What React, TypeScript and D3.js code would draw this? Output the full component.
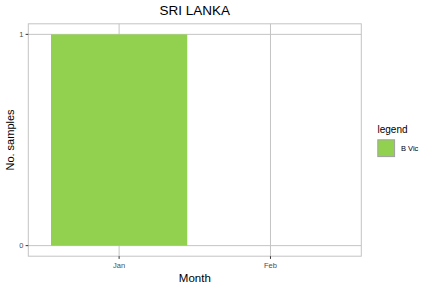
import React from "react";
import * as d3 from "d3";

const months = ["Jan", "Feb"];
const barMonths = ["Jan"];
const barValues = [1];
const yTicks = [0, 1];
const seriesName = "B Vic";
const title = "SRI LANKA";

export default function App() {
  const W = 432, H = 288;
  const left = 28.3, right = 361.3, top = 23.8, bottom = 256.2;
  const step = (right - left) / (months.length - 1 + 1.2);
  const xPos = (m: string) => left + step * (0.6 + months.indexOf(m));
  const y = d3.scaleLinear().domain([-0.05, 1.05]).range([bottom, top]);
  const bw = step * 0.9;
  const grid = "#c4c4c4";
  const font = "Liberation Sans, Arial, sans-serif";
  return (
    <svg width={W} height={H} style={{ position: "absolute", left: 0, top: 0 }} fontFamily={font}>
      <rect x={0} y={0} width={W} height={H} fill="white" />
      {yTicks.map((t) => (
        <line key={"gy" + t} x1={left} x2={right} y1={y(t)} y2={y(t)} stroke={grid} strokeWidth={1} />
      ))}
      {months.map((m) => (
        <line key={"gx" + m} x1={xPos(m)} x2={xPos(m)} y1={top} y2={bottom} stroke={grid} strokeWidth={1} />
      ))}
      {barMonths.map((m, i) => (
        <rect key={m} x={xPos(m) - bw / 2} width={bw} y={y(barValues[i])} height={y(0) - y(barValues[i])} fill="#92d050" />
      ))}
      <rect x={left} y={top} width={right - left} height={bottom - top} fill="none" stroke={grid} strokeWidth={1} />
      {yTicks.map((t) => (
        <g key={"ty" + t}>
          <line x1={left - 2.7} x2={left} y1={y(t)} y2={y(t)} stroke="#333" strokeWidth={1} />
          <text x={left - 5} y={y(t)} dy="0.35em" textAnchor="end" fontSize={7.5} fill="#4d4d4d">{t}</text>
        </g>
      ))}
      {months.map((m) => (
        <g key={"tx" + m}>
          <line x1={xPos(m)} x2={xPos(m)} y1={bottom} y2={bottom + 2.7} stroke="#333" strokeWidth={1} />
          <text x={xPos(m)} y={267.7} textAnchor="middle" fontSize={7.5} fill="#4d4d4d">{m}</text>
        </g>
      ))}
      <text x={(left + right) / 2} y={15} textAnchor="middle" fontSize={13.5} fill="#000">{title}</text>
      <text x={(left + right) / 2} y={281.7} textAnchor="middle" fontSize={11.5} fill="#000">Month</text>
      <text transform={`translate(14.3,${(top + bottom) / 2}) rotate(-90)`} textAnchor="middle" fontSize={11} fill="#000">No. samples</text>
      <text x={377.5} y={133} fontSize={10} fill="#000">legend</text>
      <rect x={377.8} y={139.8} width={16.8} height={16.8} fill="#92d050" stroke="#a0a0a0" strokeWidth={1} />
      <text x={401} y={148.2} dy="0.35em" fontSize={7.5} fill="#000">{seriesName}</text>
    </svg>
  );
}
